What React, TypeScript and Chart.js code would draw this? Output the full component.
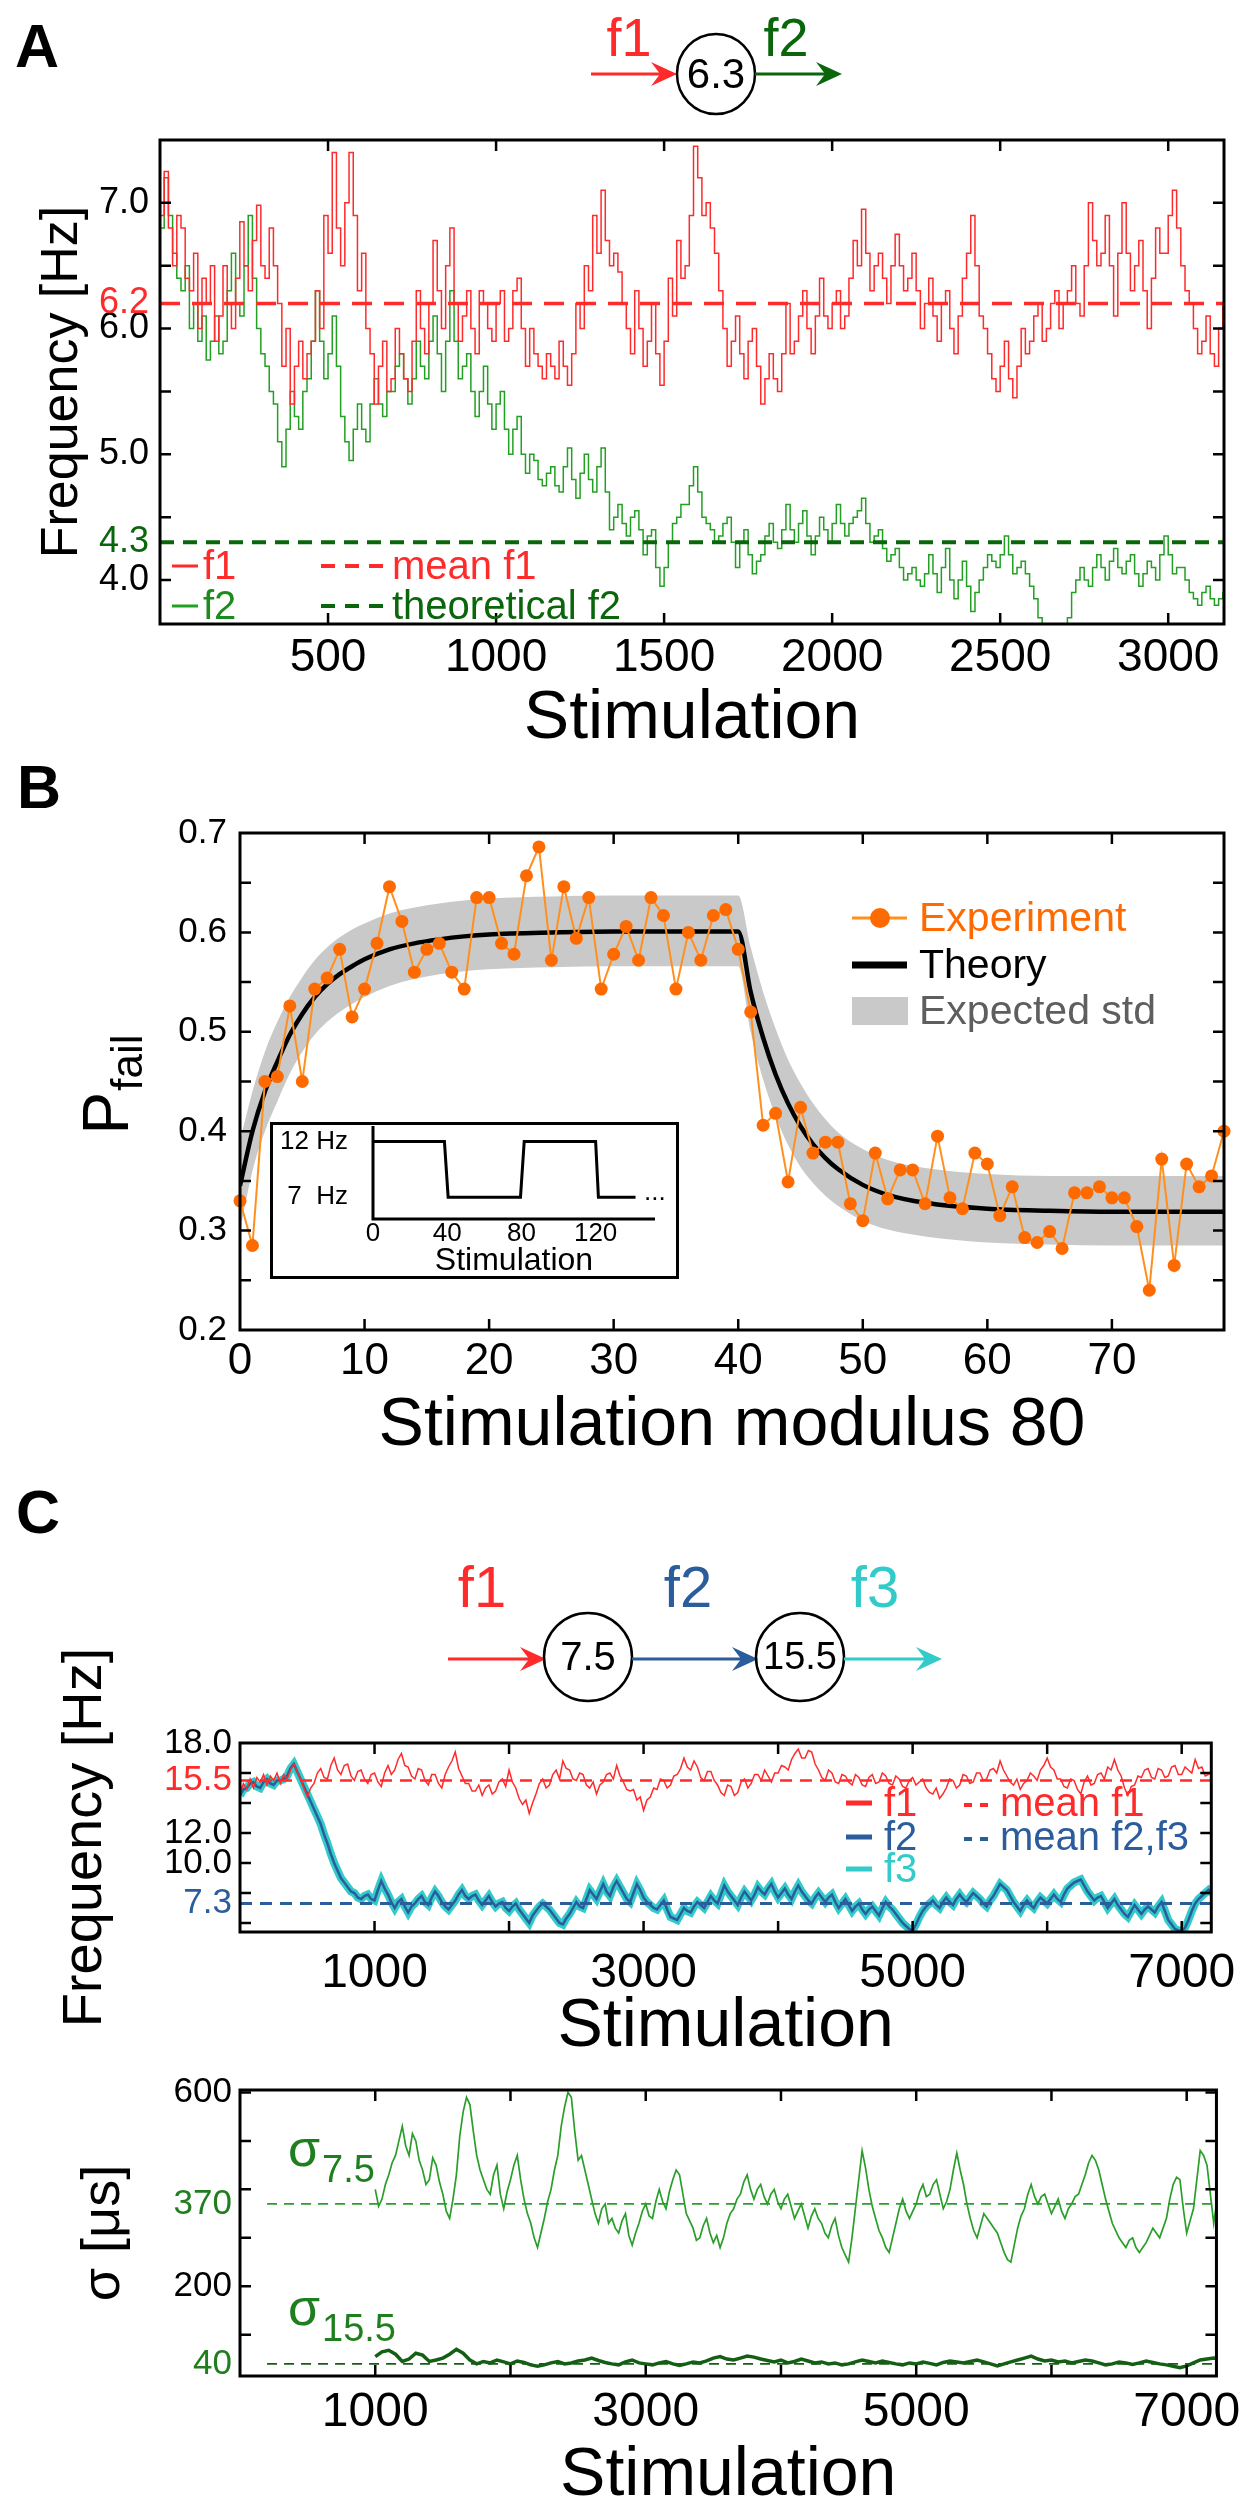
import React, { useEffect, useRef } from 'react';
import { Chart, registerables } from 'chart.js';

Chart.register(...registerables);

const SANS = "'Liberation Sans', Arial, Helvetica, sans-serif";
const fnt = (size: number, bold = false) => `${bold ? 'bold ' : ''}${size}px ${SANS}`;

const RED = '#ff2b2b';
const A_GREEN = '#22a022';
const A_GREEN_TXT = '#1c8a1c';
const DK_GREEN = '#0a660a';
const ORANGE_DOT = '#ff6a00';
const ORANGE_LINE = '#ff8f1f';
const BAND = '#c9c9c9';
const BLUE = '#2b5c9c';
const CYAN = '#33caca';
const S_GREEN = '#2a9e2a';
const S_DKGREEN = '#145f14';
const S_LABEL = '#1f7f1f';

// ================= Panel A =================
const aStep = 12.5; // stimulation spacing of the samples below
const aF1 = [
  6.6, 6.9, 7.25, 6.8, 6.5, 6.9, 6.8, 6.4, 6.3, 6.6, 6.0, 6.4, 6.2, 6.5, 5.9, 6.1,
  6.5, 6.2, 6.0, 6.4, 6.85, 6.5, 6.3, 6.7, 6.98, 6.5, 6.4, 6.8, 6.5, 6.2, 5.7, 6.0,
  5.4, 5.7, 5.9, 5.6, 5.8, 5.9, 6.3, 6.0, 6.9, 6.6, 7.4, 6.8, 6.5, 7.0, 7.4, 6.9,
  6.3, 6.6, 6.0, 5.8, 5.4, 5.7, 5.9, 5.5, 5.6, 6.0, 5.8, 5.6, 5.5, 5.9, 6.3, 6.0,
  5.8, 6.2, 6.7, 6.3, 6.0, 6.5, 6.8, 6.2, 5.9, 6.1, 6.3, 6.0, 5.8, 6.3, 6.2, 6.0,
  5.9, 6.2, 6.3, 5.9, 6.0, 6.3, 6.4, 6.0, 5.7, 6.0, 5.8, 5.7, 5.6, 5.8, 5.7, 5.6,
  5.9, 5.7, 5.55, 5.8, 6.2, 6.0, 6.5, 6.3, 6.9, 6.6, 7.1, 6.7, 6.5, 6.6, 6.45, 6.2,
  6.0, 5.8, 6.3, 6.0, 5.7, 5.9, 6.2, 5.8, 5.55, 5.9, 6.4, 6.1, 6.7, 6.4, 6.5, 6.9,
  7.45, 7.2, 6.9, 7.0, 6.8, 6.6, 6.3, 6.0, 5.7, 5.9, 6.1, 5.8, 5.6, 5.9, 6.0, 5.7,
  5.4, 5.6, 5.8, 5.6, 5.5, 5.8, 6.2, 5.8, 5.9, 6.1, 6.3, 6.0, 5.8, 6.1, 6.4, 6.1,
  6.0, 6.2, 6.3, 6.0, 6.1, 6.4, 6.7, 6.5, 6.95, 6.6, 6.3, 6.5, 6.6, 6.4, 6.2, 6.5,
  6.75, 6.5, 6.3, 6.4, 6.6, 6.3, 6.0, 6.2, 6.4, 6.1, 5.9, 6.2, 6.3, 6.0, 5.8, 6.1,
  6.4, 6.6, 6.9, 6.5, 6.1, 6.0, 5.8, 5.6, 5.5, 5.7, 5.9, 5.6, 5.45, 5.7, 6.0, 5.8,
  5.9, 6.1, 6.2, 5.9, 6.0, 6.2, 6.3, 6.0, 6.2, 6.3, 6.5, 6.2, 6.1, 6.5, 7.0, 6.7,
  6.5, 6.6, 6.9, 6.5, 6.1, 6.6, 7.0, 6.6, 6.3, 6.5, 6.7, 6.3, 6.0, 6.4, 6.8, 6.6,
  6.6, 6.9, 7.1, 6.8, 6.5, 6.3, 6.2, 6.0, 5.8, 5.9, 6.1, 5.8, 5.7, 6.0, 6.2,
];
const aF2 = [
  6.4, 6.8, 7.2, 6.9, 6.6, 6.4, 6.3, 6.5, 6.0, 6.2, 5.9, 6.1, 5.75, 5.9, 6.1, 5.8,
  5.9, 6.3, 6.6, 6.2, 6.1, 6.5, 6.9, 6.4, 6.0, 5.8, 5.7, 5.5, 5.4, 5.1, 4.9, 5.2,
  5.5, 5.3, 5.2, 5.5, 5.6, 5.9, 6.3, 5.9, 5.6, 5.8, 6.1, 5.7, 5.3, 5.1, 4.95, 5.2,
  5.4, 5.2, 5.1, 5.4, 5.6, 5.4, 5.3, 5.5, 5.5, 5.7, 5.8, 5.6, 5.4, 5.6, 5.9, 5.7,
  5.6, 5.9, 6.1, 5.8, 5.5, 5.9, 6.3, 5.9, 5.6, 5.7, 5.8, 5.5, 5.3, 5.5, 5.7, 5.4,
  5.2, 5.4, 5.5, 5.2, 5.0, 5.2, 5.3, 5.0, 4.85, 5.0, 4.95, 4.8, 4.75, 4.85, 4.9, 4.75,
  4.7, 4.9, 5.05, 4.8, 4.65, 4.85, 5.0, 4.8, 4.7, 4.9, 5.05, 4.7, 4.4, 4.5, 4.6, 4.45,
  4.35, 4.5, 4.55, 4.4, 4.2, 4.35, 4.4, 4.1, 3.95, 4.1, 4.3, 4.45, 4.5, 4.6, 4.6, 4.75,
  4.9, 4.7, 4.5, 4.45, 4.4, 4.3, 4.35, 4.45, 4.5, 4.3, 4.1, 4.3, 4.4, 4.2, 4.05, 4.15,
  4.2, 4.35, 4.45, 4.3, 4.25, 4.4, 4.6, 4.4, 4.3, 4.45, 4.55, 4.35, 4.2, 4.35, 4.5, 4.4,
  4.3, 4.45, 4.6, 4.45, 4.35, 4.45, 4.5, 4.55, 4.65, 4.45, 4.3, 4.35, 4.4, 4.25, 4.15, 4.2,
  4.25, 4.1, 4.0, 4.05, 4.1, 4.0, 3.95, 4.05, 4.2, 4.05, 3.9, 4.1, 4.25, 4.0, 3.85, 4.0,
  4.15, 3.95, 3.75, 3.9, 4.0, 4.1, 4.2, 4.15, 4.1, 4.2, 4.35, 4.2, 4.05, 4.1, 4.15, 4.05,
  3.95, 3.85, 3.7, 3.55, 3.45, 3.5, 3.5, 3.45, 3.55, 3.7, 3.9, 4.0, 4.1, 4.0, 3.95, 4.1,
  4.2, 4.1, 4.0, 4.15, 4.25, 4.1, 4.05, 4.15, 4.2, 4.05, 3.95, 4.05, 4.15, 4.1, 4.0, 4.2,
  4.35, 4.2, 4.05, 4.1, 4.1, 4.0, 3.9, 3.85, 3.8, 3.9, 3.95, 3.85, 3.8, 3.85, 3.9,
];
const aStim = aF1.map((_, i) => i * aStep);
const aMeanF1 = 6.2;
const aTheoF2 = 4.3;
const aXRange = [0, 3166];
const aYRange = [3.65, 7.5];
const aXLabels = [500, 1000, 1500, 2000, 2500, 3000];
const aYLabels = [4.0, 4.3, 5.0, 6.0, 6.2, 7.0];
const aYMarks = [4.0, 4.5, 5.0, 5.5, 6.0, 6.5, 7.0];

// ================= Panel B =================
const bExpX = Array.from({ length: 80 }, (_, i) => i);
const bExp = [
  0.33, 0.285, 0.45, 0.455, 0.526, 0.45, 0.543, 0.554, 0.583, 0.515,
  0.543, 0.589, 0.646, 0.611, 0.56, 0.583, 0.589, 0.56, 0.543, 0.635,
  0.635, 0.589, 0.578, 0.657, 0.686, 0.572, 0.646, 0.594, 0.635, 0.543,
  0.578, 0.606, 0.572, 0.635, 0.617, 0.543, 0.6, 0.572, 0.617, 0.623,
  0.583, 0.52, 0.406, 0.418, 0.349, 0.424, 0.378, 0.389, 0.389, 0.327,
  0.31, 0.378, 0.332, 0.361, 0.361, 0.327, 0.395, 0.333, 0.322, 0.378,
  0.367, 0.315, 0.344, 0.293, 0.288, 0.299, 0.282, 0.338, 0.338, 0.344,
  0.333, 0.333, 0.304, 0.24, 0.372, 0.265, 0.367, 0.344, 0.355, 0.4,
];
const bTheoX = [0, 1, 2, 3, 4, 5, 6, 7, 8, 9, 10, 12, 14, 16, 18, 20, 25, 30, 35, 40, 41, 42, 43, 44, 45, 46, 47, 48, 50, 52, 55, 60, 65, 70, 79];
const bTheory = [0.345, 0.4, 0.44, 0.47, 0.497, 0.518, 0.535, 0.548, 0.558, 0.566, 0.573, 0.583, 0.589, 0.593, 0.596, 0.598, 0.6, 0.601, 0.601, 0.601, 0.54, 0.494, 0.457, 0.428, 0.405, 0.387, 0.373, 0.362, 0.346, 0.336, 0.328, 0.322, 0.32, 0.319, 0.319];
const bUpper = [0.39, 0.44, 0.48, 0.51, 0.535, 0.555, 0.572, 0.585, 0.595, 0.603, 0.609, 0.619, 0.625, 0.629, 0.632, 0.634, 0.636, 0.637, 0.637, 0.637, 0.585, 0.54, 0.503, 0.472, 0.448, 0.428, 0.412, 0.399, 0.382, 0.371, 0.363, 0.357, 0.355, 0.355, 0.355];
const bLower = [0.3, 0.36, 0.4, 0.43, 0.458, 0.48, 0.497, 0.51, 0.52, 0.528, 0.535, 0.546, 0.553, 0.558, 0.561, 0.563, 0.565, 0.566, 0.566, 0.566, 0.5, 0.452, 0.415, 0.386, 0.364, 0.348, 0.335, 0.325, 0.31, 0.301, 0.294, 0.288, 0.286, 0.285, 0.285];
const bXRange = [0, 79];
const bYRange = [0.2, 0.7];
const bXLabels = [0, 10, 20, 30, 40, 50, 60, 70];
const bYLabels = [0.2, 0.3, 0.4, 0.5, 0.6, 0.7];
const bXMarks = [10, 20, 30, 40, 50, 60, 70];
const bYMarks = [0.25, 0.3, 0.35, 0.4, 0.45, 0.5, 0.55, 0.6, 0.65];

// inset of panel B
const insX = [0, 38.5, 40.5, 79.5, 81.5, 120, 121.5, 141.5];
const insHz = [12, 12, 7, 7, 12, 12, 7, 7];
const insXLabels = [0, 40, 80, 120];
const insYLabels = [7, 12];

// ================= Panel C (top) =================
const cStep = 25;
const cF1 = [
  14.6, 15.3, 14.9, 15.6, 15.0, 15.7, 15.4, 15.9, 15.2, 15.8, 15.5, 16.0, 15.3, 15.9, 15.6, 16.2, 16.6, 16.1, 15.6, 15.0,
  14.4, 15.0, 15.3, 16.0, 16.3, 15.7, 15.6, 16.5, 17.0, 16.2, 15.9, 16.5, 16.6, 15.8, 15.5, 16.1, 16.2, 15.6, 15.3, 15.9,
  16.0, 15.4, 15.1, 16.0, 16.5, 15.9, 16.2, 16.9, 17.3, 16.5, 16.4, 15.8, 15.6, 16.3, 16.2, 15.5, 15.2, 15.9, 15.9, 15.3,
  15.0, 15.9, 16.4, 16.8, 17.4, 16.3, 15.8, 15.3, 15.3, 14.8, 14.8, 15.2, 14.5, 15.0, 15.2, 14.6, 14.8, 15.4, 15.6, 15.1,
  16.2, 15.4, 15.0, 14.3, 13.9, 14.2, 13.3, 14.0, 14.6, 15.3, 15.6, 15.0, 15.2, 15.9, 16.2, 15.6, 16.8, 16.3, 16.2, 15.6,
  15.5, 16.0, 15.9, 15.2, 15.0, 15.4, 14.6, 15.2, 15.4, 15.9, 16.0, 15.6, 16.5, 15.8, 15.4, 14.9, 14.8, 14.9, 14.2, 14.4,
  13.5, 14.2, 14.4, 15.0, 14.9, 15.6, 15.5, 15.0, 15.2, 15.8, 15.9, 16.3, 17.0, 16.4, 16.2, 16.8, 16.4, 15.7, 15.5, 16.1,
  16.1, 15.5, 15.2, 14.7, 14.5, 15.2, 15.1, 14.5, 14.7, 15.4, 15.6, 15.0, 15.3, 15.9, 15.9, 15.5, 16.2, 15.8, 15.4, 16.0,
  16.0, 16.5, 16.4, 16.2, 16.9, 17.3, 17.6, 17.0, 17.0, 17.5, 17.4, 16.6, 16.2, 15.7, 15.5, 16.2, 16.0, 15.4, 15.3, 15.9,
  15.8, 15.4, 15.2, 15.9, 15.7, 15.2, 15.1, 15.7, 15.9, 15.3, 15.4, 16.0, 15.8, 15.3, 15.2, 15.8, 15.6, 15.1, 15.0, 15.5,
  15.7, 15.2, 15.4, 15.6, 15.0, 14.7, 14.6, 15.0, 14.3, 14.6, 15.0, 15.6, 15.5, 15.0, 15.2, 15.9, 15.8, 15.3, 15.4, 16.0,
  16.0, 15.5, 15.6, 16.2, 16.3, 16.0, 16.8, 16.2, 15.8, 15.4, 15.2, 15.6, 14.9, 15.3, 15.5, 16.0, 15.8, 15.5, 16.2, 16.5,
  17.0, 16.4, 16.2, 15.6, 15.6, 15.1, 15.0, 15.6, 15.5, 14.9, 14.6, 15.4, 15.8, 15.2, 15.3, 15.9, 16.0, 15.6, 16.4, 16.2,
  16.9, 16.2, 15.8, 15.0, 14.5, 15.1, 15.2, 15.8, 15.7, 16.2, 16.3, 15.7, 15.6, 16.3, 16.2, 15.7, 15.8, 16.4, 16.5, 15.9,
  15.9, 16.4, 16.2, 16.0, 16.9, 16.3, 16.4, 15.8, 15.9, 16.2,
];
const cF2 = [
  14.5, 14.9, 15.0, 15.3, 15.4, 15.1, 15.0, 15.4, 15.6, 15.3, 15.2, 15.5, 15.5, 15.6, 15.8, 16.3, 16.6, 16.1, 15.6, 15.1,
  14.6, 14.1, 13.6, 13.1, 12.6, 11.9, 11.3, 10.6, 10.0, 9.5, 9.0, 8.7, 8.4, 8.1, 8.0, 7.7, 7.6, 7.8, 7.9, 7.6,
  7.5, 8.2, 8.8, 8.3, 7.9, 7.4, 7.0, 7.4, 7.6, 7.1, 6.7, 7.1, 7.3, 7.6, 7.8, 7.4, 7.2, 7.7, 8.1, 7.8,
  7.4, 7.1, 6.9, 7.2, 7.5, 7.9, 8.2, 7.8, 7.6, 7.8, 7.9, 7.5, 7.2, 7.5, 7.8, 7.4, 7.1, 7.3, 7.4, 7.0,
  6.8, 7.1, 7.3, 6.9, 6.6, 6.3, 6.0, 6.5, 6.8, 7.1, 7.3, 7.1, 6.9, 6.6, 6.3, 6.0, 5.9, 6.3, 6.6, 7.0,
  7.4, 7.1, 7.0, 7.6, 8.2, 7.9, 7.6, 8.1, 8.6, 8.1, 7.8, 8.4, 8.8, 8.4, 8.0, 7.6, 7.4, 8.0, 8.6, 8.2,
  7.7, 7.4, 7.2, 7.0, 6.9, 7.2, 7.5, 6.9, 6.4, 6.3, 6.2, 6.6, 7.0, 6.8, 6.7, 7.1, 7.4, 7.2, 7.0, 7.4,
  7.8, 7.5, 7.3, 7.9, 8.5, 8.1, 7.8, 7.5, 7.2, 7.7, 8.1, 7.8, 7.5, 7.9, 8.4, 8.1, 7.9, 8.3, 8.6, 8.1,
  7.7, 8.0, 8.3, 7.9, 7.6, 8.1, 8.5, 8.1, 7.8, 7.5, 7.3, 7.7, 8.0, 7.7, 7.4, 7.7, 7.9, 7.4, 7.0, 7.3,
  7.6, 7.2, 6.8, 7.1, 7.3, 6.9, 6.6, 6.9, 7.1, 6.8, 6.5, 7.0, 7.4, 7.1, 6.9, 6.6, 6.3, 6.0, 5.8, 5.6,
  5.5, 5.9, 6.4, 6.8, 7.1, 7.3, 7.5, 7.2, 7.0, 7.4, 7.7, 7.4, 7.2, 7.6, 7.9, 7.6, 7.4, 7.7, 8.0, 7.8,
  7.6, 7.3, 7.1, 7.5, 7.8, 8.2, 8.6, 8.4, 8.2, 7.8, 7.4, 7.1, 6.8, 7.2, 7.5, 7.2, 7.0, 7.4, 7.7, 7.5,
  7.3, 7.6, 7.9, 7.6, 7.4, 7.9, 8.3, 8.5, 8.7, 8.8, 8.9, 8.5, 8.1, 7.8, 7.5, 7.7, 7.8, 7.4, 7.0, 7.3,
  7.6, 7.2, 6.9, 6.6, 6.4, 6.8, 7.2, 6.9, 6.6, 6.9, 7.1, 6.9, 6.7, 7.1, 7.4, 6.8, 6.2, 5.9, 5.6, 5.5,
  5.45, 5.7, 6.2, 6.8, 7.3, 7.6, 7.8, 8.0, 8.2, 8.0,
];
const cF3 = cF2; // f3 follows f2 exactly in the figure
const cStim = cF1.map((_, i) => i * cStep);
const cMeanF1 = 15.5;
const cMeanF23 = 7.3;
const cXRange = [0, 7220];
const cYRange = [5.4, 18];
const cXLabels = [1000, 3000, 5000, 7000];
const cXMarks = [1000, 2000, 3000, 4000, 5000, 6000, 7000];
const cYLabels = [7.3, 10, 12, 15.5, 18];
const cYMarks = [6, 8, 10, 12, 14, 16];

// ================= Panel C (sigma) =================
const sStart = 1000;
const s75Step = 25;
const sSig75 = [
  400, 365, 380, 410, 430, 455, 470, 500, 530, 490, 470, 515, 500, 460, 440, 410, 420, 465, 450, 415,
  390, 355, 340, 380, 430, 510, 560, 590, 575, 520, 470, 440, 420, 400, 390, 430, 450, 390, 360, 395,
  420, 450, 470, 420, 380, 350, 330, 300, 280, 310, 340, 375, 400, 440, 470, 530, 570, 600, 590, 520,
  460, 470, 440, 410, 380, 350, 330, 360, 370, 330, 340, 320, 310, 335, 350, 305, 285, 310, 330, 355,
  370, 345, 340, 375, 400, 375, 360, 395, 420, 440, 430, 390, 350, 335, 320, 295, 300, 325, 340, 310,
  290, 305, 280, 300, 330, 350, 360, 380, 390, 415, 430, 400, 380, 400, 410, 385, 370, 390, 400, 375,
  360, 380, 390, 365, 340, 355, 370, 345, 320, 345, 360, 340, 330, 310, 300, 325, 340, 305, 280, 265,
  250, 300, 360, 420, 480, 445, 400, 365, 340, 315, 300, 280, 270, 300, 330, 360, 380, 355, 340, 355,
  370, 395, 410, 385, 390, 410, 420, 390, 360, 375, 400, 440, 475, 440, 410, 370, 340, 315, 300, 325,
  350, 340, 330, 320, 310, 290, 270, 255, 250, 285, 320, 345, 360, 390, 410, 385, 370, 385, 390, 370,
  350, 365, 380, 355, 340, 360, 370, 385, 390, 410, 430, 455, 470, 460, 440, 410, 380, 355, 330, 315,
  300, 290, 280, 295, 300, 280, 270, 280, 290, 305, 320, 310, 300, 320, 340, 380, 410, 425, 420, 360,
  310, 335, 360, 420, 480, 470, 450, 390, 330, 380,
];
const s155Step = 50;
const sSig155 = [
  55, 65, 68, 60, 45, 50, 62, 58, 45, 48,
  52, 60, 70, 62, 48, 40, 45, 42, 48, 44,
  40, 46, 43, 38, 35, 38, 42, 45, 40, 42,
  46, 48, 52, 47, 43, 40, 38, 44, 48, 42,
  40, 38, 42, 45, 40, 37, 40, 44, 42, 46,
  52, 55, 50, 48, 52, 56, 54, 50, 47, 44,
  48, 42, 45, 50, 46, 42, 44, 40, 42, 38,
  40, 44, 48, 45, 42, 46, 43, 40, 38, 42,
  40, 44, 41, 38, 43, 46, 44, 42, 45, 48,
  44, 40, 36, 40, 44, 48, 52, 56, 50, 46,
  48, 44, 46, 42, 45, 48, 46, 42, 38, 40,
  44, 42, 39, 42, 46, 43, 40, 38, 35, 32,
  36, 42, 48, 50, 52, 50,
];
const s75Stim = sSig75.map((_, i) => sStart + i * s75Step);
const s155Stim = sSig155.map((_, i) => sStart + i * s155Step);
const sMean75 = 370;
const sMean155 = 40;
const sMeanFrom = 200;
const sXRange = [0, 7220];
const sYRange = [15, 605];
const sYLabels = [40, 200, 370, 600];
const sYMarks = [100, 200, 300, 400, 500, 600];

// ================= helpers =================
const pts = (xs: number[], ys: number[]) => ys.map((y, i) => ({ x: xs[i], y }));

function axis(o: any): any {
  return {
    type: 'linear',
    min: o.min,
    max: o.max,
    grid: { display: false, drawTicks: false },
    border: { display: false },
    afterBuildTicks: (s: any) => {
      s.ticks = o.ticks.map((v: number) => ({ value: v }));
    },
    afterFit: (s: any) => {
      if (o.horizontal) s.height = o.fit;
      else s.width = o.fit;
    },
    ticks: {
      autoSkip: false,
      maxRotation: 0,
      minRotation: 0,
      padding: o.pad,
      font: { family: SANS, size: o.size, lineHeight: 1 },
      color: (c: any) => (o.color ? o.color(c.tick ? c.tick.value : 0) : '#000'),
      callback: (v: any) => o.fmt(Number(v)),
    },
    title: o.title
      ? { display: true, text: o.title, color: '#000', font: { family: SANS, size: o.titleSize, lineHeight: 1 }, padding: o.titlePad }
      : { display: false },
  };
}

function baseOpts(pad: any): any {
  return {
    animation: false,
    responsive: false,
    maintainAspectRatio: false,
    devicePixelRatio: 1,
    events: [],
    layout: { padding: pad },
    plugins: { legend: { display: false }, tooltip: { enabled: false } },
  };
}

function boxTicks(xT: number[], yT: number[], len = 11, lw = 3): any {
  return {
    id: 'boxTicks',
    afterDraw(chart: any) {
      const { ctx, chartArea: a } = chart;
      const xs = chart.scales.x;
      const ys = chart.scales.y;
      ctx.save();
      ctx.strokeStyle = '#000';
      ctx.lineWidth = lw - 0.5;
      ctx.beginPath();
      xT.forEach((v) => {
        const p = xs.getPixelForValue(v);
        ctx.moveTo(p, a.bottom);
        ctx.lineTo(p, a.bottom - len);
        ctx.moveTo(p, a.top);
        ctx.lineTo(p, a.top + len);
      });
      yT.forEach((v) => {
        const p = ys.getPixelForValue(v);
        ctx.moveTo(a.left, p);
        ctx.lineTo(a.left + len, p);
        ctx.moveTo(a.right, p);
        ctx.lineTo(a.right - len, p);
      });
      ctx.stroke();
      ctx.lineWidth = lw;
      ctx.strokeRect(a.left, a.top, a.right - a.left, a.bottom - a.top);
      ctx.restore();
    },
  };
}

function text(ctx: any, s: string, x: number, y: number, size: number, color: string, align = 'left', baseline = 'alphabetic', bold = false) {
  ctx.save();
  ctx.font = fnt(size, bold);
  ctx.fillStyle = color;
  ctx.textAlign = align;
  ctx.textBaseline = baseline;
  ctx.fillText(s, x, y);
  ctx.restore();
}

function arrow(ctx: any, x1: number, x2: number, y: number, color: string, lw = 3) {
  const hl = 26;
  const hw = 12;
  ctx.save();
  ctx.strokeStyle = color;
  ctx.fillStyle = color;
  ctx.lineWidth = lw;
  ctx.beginPath();
  ctx.moveTo(x1, y);
  ctx.lineTo(x2 - hl * 0.6, y);
  ctx.stroke();
  ctx.beginPath();
  ctx.moveTo(x2, y);
  ctx.lineTo(x2 - hl, y - hw);
  ctx.lineTo(x2 - hl * 0.65, y);
  ctx.lineTo(x2 - hl, y + hw);
  ctx.closePath();
  ctx.fill();
  ctx.restore();
}

function ring(ctx: any, cx: number, cy: number, rx: number, ry: number) {
  ctx.save();
  ctx.strokeStyle = '#000';
  ctx.lineWidth = 2.5;
  ctx.beginPath();
  ctx.ellipse(cx, cy, rx, ry, 0, 0, Math.PI * 2);
  ctx.stroke();
  ctx.restore();
}

function seg(ctx: any, x1: number, x2: number, y: number, color: string, lw: number) {
  ctx.save();
  ctx.strokeStyle = color;
  ctx.lineWidth = lw;
  ctx.beginPath();
  ctx.moveTo(x1, y);
  ctx.lineTo(x2, y);
  ctx.stroke();
  ctx.restore();
}

const line = (data: any[], color: string, width: number, extra: any = {}) => ({
  data,
  borderColor: color,
  backgroundColor: color,
  borderWidth: width,
  pointRadius: 0,
  fill: false,
  tension: 0,
  ...extra,
});

// canvas placement (page px)
const A_TOP = 0;
const A_H = 760;
const B_TOP = 750;
const B_H = 720;
const I_TOP = 1082;
const I_LEFT = 250;
const I_W = 450;
const I_H = 217;
const C_TOP = 1460;
const C_H = 620;
const S_TOP = 2060;
const S_H = 450;

export default function App() {
  const refA = useRef<HTMLCanvasElement>(null);
  const refB = useRef<HTMLCanvasElement>(null);
  const refI = useRef<HTMLCanvasElement>(null);
  const refC = useRef<HTMLCanvasElement>(null);
  const refS = useRef<HTMLCanvasElement>(null);

  useEffect(() => {
    const charts: any[] = [];

    // ---------------- Panel A ----------------
    const decoA = {
      id: 'decoA',
      afterDraw(chart: any) {
        const ctx = chart.ctx;
        text(ctx, 'A', 15, 67, 61, '#000', 'left', 'alphabetic', true);
        arrow(ctx, 591, 677, 74, RED);
        ring(ctx, 716, 74, 39, 40);
        text(ctx, '6.3', 716, 76, 42, '#000', 'center', 'middle');
        arrow(ctx, 755, 842, 74, DK_GREEN);
        text(ctx, 'f1', 629, 56, 54, RED, 'center');
        text(ctx, 'f2', 786, 56, 54, DK_GREEN, 'center');
        // legend
        seg(ctx, 172, 198, 566, RED, 3);
        text(ctx, 'f1', 203, 568, 40, RED, 'left', 'middle');
        [321, 345, 369].forEach((x) => seg(ctx, x, x + 14, 566, RED, 4));
        text(ctx, 'mean f1', 392, 568, 40, RED, 'left', 'middle');
        seg(ctx, 172, 198, 606, A_GREEN, 3);
        text(ctx, 'f2', 203, 608, 40, A_GREEN_TXT, 'left', 'middle');
        [321, 345, 369].forEach((x) => seg(ctx, x, x + 14, 606, DK_GREEN, 4));
        text(ctx, 'theoretical f2', 392, 608, 40, DK_GREEN, 'left', 'middle');
      },
    };
    charts.push(
      new Chart(refA.current as any, {
        type: 'line',
        data: {
          datasets: [
            line(pts(aXRange, [aMeanF1, aMeanF1]), RED, 3.5, { borderDash: [20, 12] }),
            line(pts(aXRange, [aTheoF2, aTheoF2]), DK_GREEN, 4, { borderDash: [14, 9] }),
            line(pts(aStim, aF1), RED, 1.5, { stepped: 'after' }),
            line(pts(aStim, aF2), A_GREEN, 1.5, { stepped: 'after' }),
          ],
        },
        options: {
          ...baseOpts({ left: 0, top: 140, right: 30, bottom: 0 }),
          scales: {
            x: axis({
              min: aXRange[0], max: aXRange[1], ticks: aXLabels, fmt: (v: number) => String(v),
              size: 46, pad: 11, fit: A_H - 624, horizontal: true,
              title: 'Stimulation', titleSize: 68, titlePad: { top: 0, bottom: 7 },
            }),
            y: axis({
              min: aYRange[0], max: aYRange[1], ticks: aYLabels, fmt: (v: number) => v.toFixed(1),
              color: (v: number) => (v === 6.2 ? RED : v === 4.3 ? DK_GREEN : '#000'),
              size: 36, pad: 11, fit: 160,
              title: 'Frequency [Hz]', titleSize: 52, titlePad: { top: 37, bottom: 0 },
            }),
          },
        },
        plugins: [boxTicks(aXLabels, aYMarks), decoA],
      } as any)
    );

    // ---------------- Panel B ----------------
    const decoB = {
      id: 'decoB',
      afterDraw(chart: any) {
        const ctx = chart.ctx;
        text(ctx, 'B', 17, 58, 61, '#000', 'left', 'alphabetic', true);
        // y title P_fail
        ctx.save();
        ctx.translate(128, 335);
        ctx.rotate(-Math.PI / 2);
        ctx.fillStyle = '#000';
        ctx.textAlign = 'left';
        ctx.textBaseline = 'alphabetic';
        ctx.font = fnt(64);
        const wP = ctx.measureText('P').width;
        ctx.font = fnt(44);
        const wF = ctx.measureText('fail').width;
        const st = -(wP + wF) / 2;
        ctx.font = fnt(64);
        ctx.fillText('P', st, 0);
        ctx.font = fnt(44);
        ctx.fillText('fail', st + wP + 1, 14);
        ctx.restore();
        // legend
        seg(ctx, 852, 907, 168, ORANGE_LINE, 3);
        ctx.save();
        ctx.fillStyle = ORANGE_DOT;
        ctx.beginPath();
        ctx.arc(880, 168, 10, 0, Math.PI * 2);
        ctx.fill();
        ctx.restore();
        text(ctx, 'Experiment', 919, 170, 41, ORANGE_DOT, 'left', 'middle');
        seg(ctx, 852, 907, 215, '#000', 7);
        text(ctx, 'Theory', 919, 217, 41, '#000', 'left', 'middle');
        ctx.save();
        ctx.fillStyle = BAND;
        ctx.fillRect(852, 247, 56, 28);
        ctx.restore();
        text(ctx, 'Expected std', 919, 263, 41, '#5e5e5e', 'left', 'middle');
      },
    };
    charts.push(
      new Chart(refB.current as any, {
        type: 'line',
        data: {
          datasets: [
            line(pts(bExpX, bExp), ORANGE_LINE, 2, {
              pointRadius: 6.5, pointBackgroundColor: ORANGE_DOT, pointBorderWidth: 0, clip: false,
            }),
            line(pts(bTheoX, bTheory), '#000', 4.5, { cubicInterpolationMode: 'monotone' }),
            line(pts(bTheoX, bUpper), BAND, 0, { cubicInterpolationMode: 'monotone', fill: '+1', backgroundColor: BAND }),
            line(pts(bTheoX, bLower), BAND, 0, { cubicInterpolationMode: 'monotone' }),
          ],
        },
        options: {
          ...baseOpts({ left: 0, top: 83, right: 30, bottom: 0 }),
          scales: {
            x: axis({
              min: bXRange[0], max: bXRange[1], ticks: bXLabels, fmt: (v: number) => String(v),
              size: 44, pad: 10, fit: 140, horizontal: true,
              title: 'Stimulation modulus 80', titleSize: 68, titlePad: { top: 0, bottom: 10 },
            }),
            y: axis({
              min: bYRange[0], max: bYRange[1], ticks: bYLabels, fmt: (v: number) => v.toFixed(1),
              size: 35, pad: 13, fit: 240,
            }),
          },
        },
        plugins: [boxTicks(bXMarks, bYMarks), decoB],
      } as any)
    );

    // ---------------- Inset ----------------
    const decoI = {
      id: 'decoI',
      beforeDraw(chart: any) {
        const ctx = chart.ctx;
        ctx.save();
        ctx.fillStyle = '#fff';
        ctx.fillRect(20, 40, 409, 157);
        ctx.restore();
      },
      afterDraw(chart: any) {
        const ctx = chart.ctx;
        const a = chart.chartArea;
        ctx.save();
        ctx.strokeStyle = '#000';
        ctx.lineWidth = 3;
        ctx.strokeRect(21.5, 41.5, 406, 154);
        ctx.beginPath();
        ctx.moveTo(a.left, a.top - 2);
        ctx.lineTo(a.left, a.bottom);
        ctx.lineTo(a.right, a.bottom);
        ctx.stroke();
        ctx.restore();
        text(ctx, '...', 394, 118, 26, '#000', 'left', 'alphabetic');
      },
    };
    charts.push(
      new Chart(refI.current as any, {
        type: 'line',
        data: { datasets: [line(pts(insX, insHz), '#000', 3)] },
        options: {
          ...baseOpts({ left: 0, top: 46, right: 45, bottom: 0 }),
          scales: {
            x: axis({
              min: 0, max: 152, ticks: insXLabels, fmt: (v: number) => String(v),
              size: 26, pad: 2, fit: 80, horizontal: true,
              title: 'Stimulation', titleSize: 32, titlePad: { top: 0, bottom: 22 },
            }),
            y: axis({
              min: 5.04, max: 13.2, ticks: insYLabels, fmt: (v: number) => (v === 12 ? '12 Hz' : '7  Hz'),
              size: 26, pad: 25, fit: 123,
            }),
          },
        },
        plugins: [decoI],
      } as any)
    );

    // ---------------- Panel C top ----------------
    const decoC = {
      id: 'decoC',
      afterDraw(chart: any) {
        const ctx = chart.ctx;
        text(ctx, 'C', 16, 73, 61, '#000', 'left', 'alphabetic', true);
        arrow(ctx, 448, 546, 199, RED);
        ring(ctx, 588, 197, 44, 44);
        text(ctx, '7.5', 588, 199, 40, '#000', 'center', 'middle');
        arrow(ctx, 632, 758, 199, BLUE);
        ring(ctx, 800, 197, 44, 44);
        text(ctx, '15.5', 800, 199, 38, '#000', 'center', 'middle');
        arrow(ctx, 844, 942, 199, CYAN);
        text(ctx, 'f1', 482, 147, 58, RED, 'center');
        text(ctx, 'f2', 688, 147, 58, BLUE, 'center');
        text(ctx, 'f3', 875, 147, 58, CYAN, 'center');
        // legend
        seg(ctx, 846, 872, 343, RED, 5);
        text(ctx, 'f1', 884, 345, 40, RED, 'left', 'middle');
        [964, 980].forEach((x) => seg(ctx, x, x + 8, 345, RED, 4));
        text(ctx, 'mean f1', 1000, 345, 40, RED, 'left', 'middle');
        seg(ctx, 846, 872, 377, BLUE, 5);
        text(ctx, 'f2', 884, 379, 40, BLUE, 'left', 'middle');
        [964, 980].forEach((x) => seg(ctx, x, x + 8, 379, BLUE, 4));
        text(ctx, 'mean f2,f3', 1000, 379, 40, BLUE, 'left', 'middle');
        seg(ctx, 846, 872, 409, CYAN, 5);
        text(ctx, 'f3', 884, 411, 40, CYAN, 'left', 'middle');
      },
    };
    charts.push(
      new Chart(refC.current as any, {
        type: 'line',
        data: {
          datasets: [
            line(pts(cXRange, [cMeanF1, cMeanF1]), RED, 2.5, { borderDash: [12, 8] }),
            line(pts(cXRange, [cMeanF23, cMeanF23]), BLUE, 3, { borderDash: [12, 8] }),
            line(pts(cStim, cF1), RED, 1.5),
            line(pts(cStim, cF2), BLUE, 2.5),
            line(pts(cStim, cF3), CYAN, 8),
          ],
        },
        options: {
          ...baseOpts({ left: 0, top: 283, right: 30, bottom: 0 }),
          scales: {
            x: axis({
              min: cXRange[0], max: cXRange[1], ticks: cXLabels, fmt: (v: number) => String(v),
              size: 48, pad: 18, fit: C_H - 472, horizontal: true,
              title: 'Stimulation', titleSize: 68, titlePad: { top: 0, bottom: 19 },
            }),
            y: axis({
              min: cYRange[0], max: cYRange[1], ticks: cYLabels, fmt: (v: number) => v.toFixed(1),
              color: (v: number) => (v === 15.5 ? RED : v === 7.3 ? BLUE : '#000'),
              size: 35, pad: 8, fit: 240,
              title: 'Frequency [Hz]', titleSize: 56, titlePad: { top: 58, bottom: 0 },
            }),
          },
        },
        plugins: [boxTicks(cXMarks, cYMarks), decoC],
      } as any)
    );

    // ---------------- Panel C sigma ----------------
    const decoS = {
      id: 'decoS',
      afterDraw(chart: any) {
        const ctx = chart.ctx;
        text(ctx, 'σ', 288, 106, 52, S_LABEL);
        text(ctx, '7.5', 322, 122, 38, S_LABEL);
        text(ctx, 'σ', 288, 265, 52, S_LABEL);
        text(ctx, '15.5', 322, 281, 38, S_LABEL);
      },
    };
    charts.push(
      new Chart(refS.current as any, {
        type: 'line',
        data: {
          datasets: [
            line(pts([sMeanFrom, sXRange[1]], [sMean75, sMean75]), S_GREEN, 1.8, { borderDash: [10, 7] }),
            line(pts([sMeanFrom, sXRange[1]], [sMean155, sMean155]), S_DKGREEN, 1.8, { borderDash: [10, 7] }),
            line(pts(s75Stim, sSig75), S_GREEN, 1.7),
            line(pts(s155Stim, sSig155), S_DKGREEN, 3.5),
          ],
        },
        options: {
          ...baseOpts({ left: 0, top: 30, right: 30, bottom: 0 }),
          scales: {
            x: axis({
              min: sXRange[0], max: sXRange[1], ticks: cXLabels, fmt: (v: number) => String(v),
              size: 48, pad: 13, fit: S_H - 316, horizontal: true,
              title: 'Stimulation', titleSize: 68, titlePad: { top: 0, bottom: 0 },
            }),
            y: axis({
              min: sYRange[0], max: sYRange[1], ticks: sYLabels, fmt: (v: number) => String(v),
              color: (v: number) => (v === 370 || v === 40 ? S_LABEL : '#000'),
              size: 35, pad: 8, fit: 240,
              title: 'σ [μs]', titleSize: 54, titlePad: { top: 77, bottom: 0 },
            }),
          },
        },
        plugins: [boxTicks(cXMarks, sYMarks), decoS],
      } as any)
    );

    return () => {
      charts.forEach((c) => c.destroy());
    };
  }, []);

  const cv = (top: number, left = 0): React.CSSProperties => ({ position: 'absolute', left, top });
  return (
    <div style={{ position: 'absolute', left: 0, top: 0, width: 1254, height: 2500, background: '#fff', overflow: 'hidden' }}>
      <canvas ref={refA} width={1254} height={A_H} style={cv(A_TOP)} />
      <canvas ref={refB} width={1254} height={B_H} style={cv(B_TOP)} />
      <canvas ref={refI} width={I_W} height={I_H} style={cv(I_TOP, I_LEFT)} />
      <canvas ref={refC} width={1254} height={C_H} style={cv(C_TOP)} />
      <canvas ref={refS} width={1254} height={S_H} style={cv(S_TOP)} />
    </div>
  );
}
